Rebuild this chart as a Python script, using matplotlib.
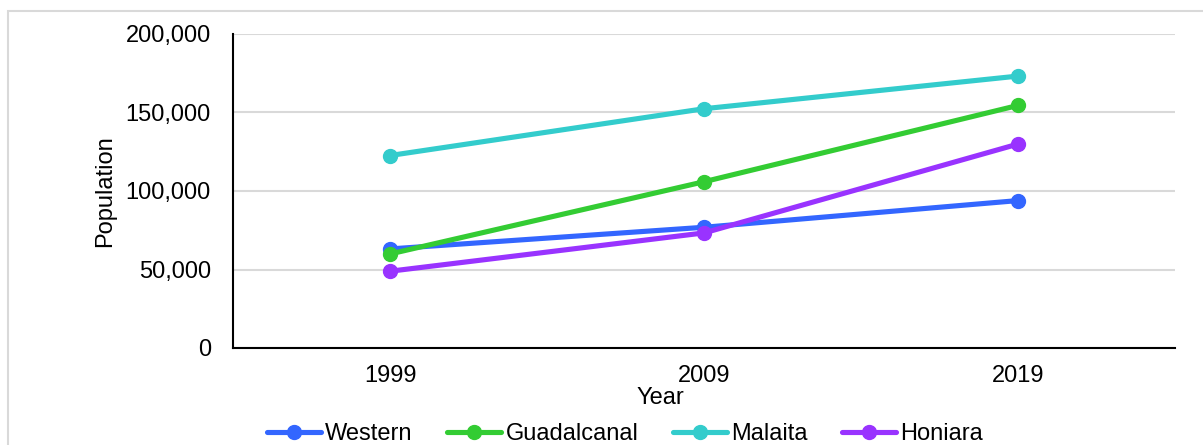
import matplotlib
matplotlib.use("Agg")
import matplotlib.pyplot as plt
from matplotlib.patches import Rectangle
from matplotlib.ticker import FuncFormatter

plt.rcParams["font.family"] = ["Liberation Sans", "DejaVu Sans"]

years = ["1999", "2009", "2019"]
western = [63100, 76900, 93900]
guadalcanal = [59900, 105900, 154500]
malaita = [122600, 152400, 173200]
honiara = [48900, 73300, 129900]

series = [
    ("Western", western, "#3366ff"),
    ("Guadalcanal", guadalcanal, "#33cc33"),
    ("Malaita", malaita, "#33cccc"),
    ("Honiara", honiara, "#9933ff"),
]

fs = 17

fig = plt.figure(figsize=(12.03, 4.45), dpi=100)
ax = fig.add_axes([233 / 1203, 1 - 348 / 445, 942 / 1203, 314 / 445])

x = range(len(years))
for name, vals, color in series:
    ax.plot(x, vals, color=color, linewidth=3.7, marker="o", markersize=10,
            label=name, solid_capstyle="round")

ax.set_xlim(-0.5, len(years) - 0.5)
ax.set_ylim(0, 200000)
ax.set_xticks(list(x))
ax.set_xticklabels(years)
ax.set_yticks([0, 50000, 100000, 150000, 200000])
ax.yaxis.set_major_formatter(FuncFormatter(lambda v, p: f"{int(v):,}"))
ax.tick_params(axis="both", length=0, labelsize=fs)
ax.tick_params(axis="y", pad=16)
ax.tick_params(axis="x", pad=12)

ax.grid(axis="y", color="#d9d9d9", linewidth=1.5)
ax.set_axisbelow(True)
for side in ["top", "right"]:
    ax.spines[side].set_visible(False)
ax.spines["left"].set_linewidth(1.5)
ax.spines["bottom"].set_linewidth(1.5)

ax.set_ylabel("Population", fontsize=fs)
ax.yaxis.set_label_coords(-0.124, 0.5)
ax.set_xlabel("Year", fontsize=fs)
ax.xaxis.set_label_coords(0.454, -0.125)

fig.legend(loc="center", bbox_to_anchor=(625 / 1203, 1 - 434 / 445), ncol=4,
           frameon=False, fontsize=fs, handlelength=2.3, handletextpad=0.18,
           columnspacing=1.45)

# light frame round the chart area
fig.patches.append(Rectangle((8 / 1203, -0.1), 1.2, 0.975 + 0.1, fill=False,
                             edgecolor="#d9d9d9", linewidth=1.5,
                             transform=fig.transFigure, figure=fig))

fig.savefig("out.png", dpi=100)
